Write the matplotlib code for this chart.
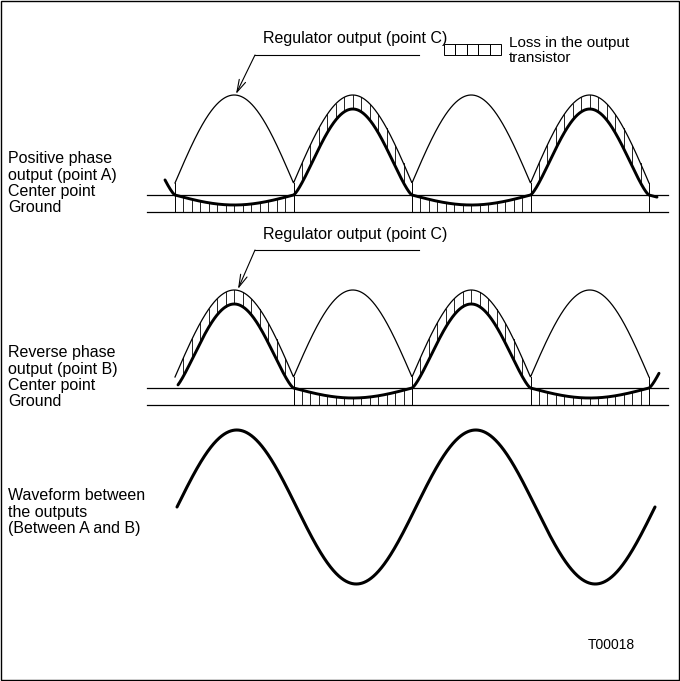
import numpy as np
import matplotlib
matplotlib.use("Agg")
import matplotlib.pyplot as plt
from matplotlib.patches import Rectangle

plt.rcParams['font.family'] = ['Liberation Sans', 'DejaVu Sans']

# rectified waveform timing (shared by panels A and B)
x0 = 175.0
half_period = 118.5
n_half = 4
hatch_per_half = 14

# panel A (positive phase) / panel B (reverse phase)
arch_base = [183, 377]
arch_peak = [95, 290]
center_y = [195, 388]
ground_y = [212, 405]
out_peak = [109, 304]
out_dip = [205, 398]
on_parity = [1, 0]               # half cycles where the output follows point C
out_span = [(165, 657), (178, 659)]
boundary_lines = [[0, 1, 2, 3, 4], [1, 2, 3, 4]]
rail_span = (147, 668)

# waveform between the outputs
sine_x0 = 177.0
sine_half = 119.5
sine_center = 507
sine_amp = 77

labels_A = ["Positive phase", "output (point A)", "Center point", "Ground"]
labels_B = ["Reverse phase", "output (point B)", "Center point", "Ground"]
labels_AB = ["Waveform between", "the outputs", "(Between A and B)"]
label_top = [159, 353, 496]
reg_text = "Regulator output (point C)"
reg_text_y = [39, 234]
reg_leader_y = [55, 250]
reg_tip = [(236, 94), (238, 289)]
legend_text = ["Loss in the output", "transistor"]
fig_code = "T00018"


def arch(x, p):
    th = (x - x0) / half_period * np.pi
    return arch_base[p] - (arch_base[p] - arch_peak[p]) * np.abs(np.sin(th))


def output(x, p):
    k = np.floor((x - x0) / half_period)
    th = (x - x0 - k * half_period) / half_period * np.pi
    s = np.sin(th)
    on = (k % 2) == on_parity[p]
    up = center_y[p] - (center_y[p] - out_peak[p]) * np.power(np.clip(s, 0, 1), 1.3)
    down = center_y[p] + (out_dip[p] - center_y[p]) * s
    return np.where(on, up, down)


fig = plt.figure(figsize=(6.8, 6.81), dpi=100)
ax = fig.add_axes([0, 0, 1, 1])
ax.set_xlim(0, 680)
ax.set_ylim(681, 0)
ax.axis('off')

ax.add_patch(Rectangle((0.8, 0.8), 678.4, 679.4, fill=False, lw=1.0, ec='black'))

for p in range(2):
    # rails
    ax.plot(rail_span, [center_y[p]] * 2, color='black', lw=0.9)
    ax.plot(rail_span, [ground_y[p]] * 2, color='black', lw=0.9)

    # regulator output (thin rectified arches)
    xa = np.linspace(x0, x0 + n_half * half_period, 1200)
    ax.plot(xa, arch(xa, p), color='black', lw=0.9)

    # output waveform (thick)
    xo = np.linspace(out_span[p][0], out_span[p][1], 1200)
    ax.plot(xo, output(xo, p), color='black', lw=2.1, solid_capstyle='round')

    # loss hatching
    for k in range(n_half):
        on = (k % 2) == on_parity[p]
        for j in range(1, hatch_per_half):
            xh = x0 + (k + j / hatch_per_half) * half_period
            yo = float(output(np.array([xh]), p)[0])
            if on:
                ax.plot([xh, xh], [float(arch(xh, p)), yo], color='black', lw=0.6)
            else:
                ax.plot([xh, xh], [yo, ground_y[p]], color='black', lw=0.6)
    for b in boundary_lines[p]:
        xb = x0 + b * half_period
        ax.plot([xb, xb], [arch_base[p], ground_y[p]], color='black', lw=0.7)

    # regulator leader and label
    ax.text(355, reg_text_y[p], reg_text, fontsize=11.5, ha='center', va='center')
    lx = 255
    ax.plot([lx, 419], [reg_leader_y[p]] * 2, color='black', lw=0.8)
    ax.annotate('', xy=reg_tip[p], xytext=(lx, reg_leader_y[p]),
                arrowprops=dict(arrowstyle='->,head_length=0.9,head_width=0.25',
                                lw=0.8, color='black', shrinkA=0, shrinkB=0))

# waveform between outputs
xs = np.linspace(sine_x0, sine_x0 + 4 * sine_half, 1200)
ax.plot(xs, sine_center - sine_amp * np.sin((xs - sine_x0) / sine_half * np.pi),
        color='black', lw=2.2, solid_capstyle='round')

# left labels
for top, lines in zip(label_top, [labels_A, labels_B, labels_AB]):
    for i, t in enumerate(lines):
        ax.text(8, top + i * 16.3, t, fontsize=11.5, ha='left', va='center')

# legend for the loss hatching
cell_w = 11.4
for i in range(5):
    ax.add_patch(Rectangle((444 + i * cell_w, 44), cell_w, 10.5, fill=False, lw=0.7, ec='black'))
for i, t in enumerate(legend_text):
    ax.text(509, 43.5 + i * 15, t, fontsize=11, ha='left', va='center')

ax.text(611, 645, fig_code, fontsize=10, ha='center', va='center')

fig.savefig('out.png', dpi=100)
